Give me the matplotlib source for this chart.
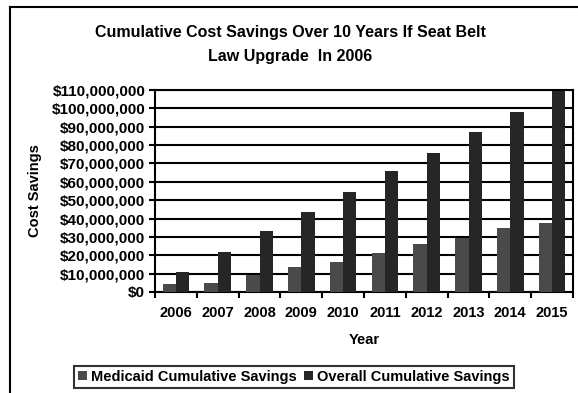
import matplotlib
matplotlib.use("Agg")
import matplotlib.pyplot as plt
from matplotlib.lines import Line2D
import numpy as np

years = ["2006", "2007", "2008", "2009", "2010", "2011", "2012", "2013", "2014", "2015"]
medicaid = [4.4e6, 4.9e6, 9.3e6, 13.7e6, 16.4e6, 21.3e6, 26.3e6, 29.6e6, 35.0e6, 37.8e6]
overall = [10.9e6, 21.9e6, 33.4e6, 43.8e6, 54.7e6, 65.7e6, 75.5e6, 87.0e6, 98.0e6, 109.5e6]
ytick_vals = [0, 10e6, 20e6, 30e6, 40e6, 50e6, 60e6, 70e6, 80e6, 90e6, 100e6, 110e6]
ytick_labels = ["$0", "$10,000,000", "$20,000,000", "$30,000,000", "$40,000,000",
                "$50,000,000", "$60,000,000", "$70,000,000", "$80,000,000",
                "$90,000,000", "$100,000,000", "$110,000,000"]
series_names = ["Medicaid Cumulative Savings", "Overall Cumulative Savings"]
title_lines = ["Cumulative Cost Savings Over 10 Years If Seat Belt", "Law Upgrade  In 2006"]

plt.rcParams['font.family'] = ['Liberation Sans', 'DejaVu Sans']
plt.rcParams['font.weight'] = 'bold'

W, H = 578, 393
fig = plt.figure(figsize=(W / 100, H / 100), dpi=100)
ax = fig.add_axes([155 / W, 1 - 292 / H, (573 - 155) / W, (292 - 90) / H])

x = np.arange(len(years))
bw = 0.32
c_med = '#4a4a4a'
c_all = '#262626'
ax.bar(x - bw / 2, medicaid, bw, color=c_med, zorder=3, label=series_names[0])
ax.bar(x + bw / 2, overall, bw, color=c_all, zorder=3, label=series_names[1])

ax.set_xlim(-0.5, len(years) - 0.5)
ax.set_ylim(0, 110e6)
ax.set_yticks(ytick_vals)
ax.set_yticklabels(ytick_labels, fontsize=11, fontweight='bold')
ax.yaxis.grid(True, color='black', linewidth=1.5, zorder=1)
ax.set_axisbelow(True)

ax.set_xticks(np.arange(-0.5, len(years)), minor=False)
ax.set_xticklabels([""] * (len(years) + 1))
ax.set_xticks(x, minor=True)
ax.set_xticklabels(years, minor=True, fontsize=10.5, fontweight='bold')
ax.tick_params(axis='x', which='minor', length=0, pad=10)
ax.tick_params(axis='x', which='major', length=4, width=1.5, direction='out')
ax.tick_params(axis='y', length=4, width=1.5, direction='out', pad=3)

for s in ax.spines.values():
    s.set_linewidth(1.5)
    s.set_color('black')

fig.text(35 / W, 1 - 191 / H, "Cost Savings", rotation=90, ha='center', va='center',
         fontsize=10.5, fontweight='bold')
fig.text(364 / W, 1 - 340 / H, "Year", ha='center', va='center', fontsize=10.5, fontweight='bold')
fig.text(290 / W, 1 - 32 / H, title_lines[0], ha='center', va='center', fontsize=11.5, fontweight='bold')
fig.text(290 / W, 1 - 57 / H, title_lines[1], ha='center', va='center', fontsize=11.5, fontweight='bold')

leg = fig.legend(loc='center', bbox_to_anchor=(294 / W, 1 - 377 / H), ncol=2, frameon=True,
                 fancybox=False, edgecolor='black', fontsize=10.5, handlelength=0.6,
                 handleheight=0.6, handletextpad=0.3, columnspacing=0.5, borderpad=0.3,
                 borderaxespad=0)
leg.get_frame().set_linewidth(1.5)

fig.add_artist(Line2D([10 / W, 1.0], [1 - 7 / H, 1 - 7 / H], color='black', lw=1.5,
                      transform=fig.transFigure))
fig.add_artist(Line2D([10 / W, 10 / W], [0, 1 - 7 / H], color='black', lw=1.5,
                      transform=fig.transFigure))

fig.savefig("out.png", dpi=100)
